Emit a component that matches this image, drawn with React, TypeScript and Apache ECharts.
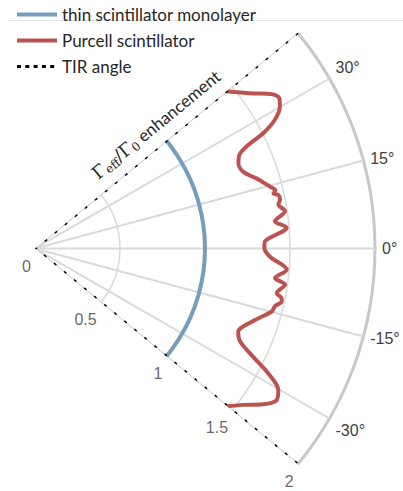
import React, { useEffect, useRef } from 'react';
import * as echarts from 'echarts';

// TIR half-angle (degrees)
const TIR = 39.4;

const seriesNames = ['thin scintillator monolayer', 'Purcell scintillator', 'TIR angle'];
const angleTicks = [-30, -15, 0, 15, 30];
const radiusTicks = [0, 0.5, 1, 1.5, 2];

// thin scintillator monolayer: enhancement read at sampled angles
const monoAngles = [-39.4, -36, -32, -28, -24, -20, -16, -12, -8, -4, 0, 4, 8, 12, 16, 20, 24, 28, 32, 36, 39.4];
const monoValues = [1, 1, 1, 1, 1, 1, 1, 1, 1, 1, 1, 1, 1, 1, 1, 1, 1, 1, 1, 1, 1];

// Purcell scintillator
const purcellAngles = [
  39.4, 35.8, 33.1, 31.6, 30.1, 28.2, 26.8, 25.9, 24.6, 22.7, 20.2, 17.0, 14.7, 13.6, 13.0, 12.4, 11.3,
  10.25, 8.5, 6.5, 4.7, 1.8, 0.2, -2, -4.8, -7, -8.2, -10.5, -11.4, -12.1, -13.5, -14.9, -18, -22.3,
  -24.4, -26.4, -28.15, -30.2, -32.1, -34.3, -36.9, -39.4,
];
const purcellValues = [
  1.457, 1.56, 1.663, 1.687, 1.665, 1.6, 1.504, 1.395, 1.322, 1.297, 1.306, 1.38, 1.43, 1.455, 1.44, 1.466, 1.47,
  1.455, 1.487, 1.42, 1.485, 1.354, 1.349, 1.383, 1.486, 1.422, 1.486, 1.446, 1.48, 1.484, 1.452, 1.441, 1.361, 1.292,
  1.325, 1.433, 1.556, 1.656, 1.678, 1.626, 1.532, 1.462,
];

export default function App() {
  const ref = useRef<HTMLDivElement>(null);
  useEffect(() => {
    const chart = echarts.init(ref.current!, null, { renderer: 'svg' });
    const gridColor = '#d9d9d9';
    const labelColor = '#404040';
    const radialSeries = angleTicks.map((a) => ({
      type: 'line',
      coordinateSystem: 'polar',
      data: [[0, a], [2, a]],
      symbol: 'none',
      silent: true,
      lineStyle: { color: gridColor, width: 2 },
      z: 1,
    }));
    chart.setOption({
      animation: false,
      legend: {
        orient: 'vertical',
        left: 15,
        top: 6,
        itemWidth: 40,
        itemHeight: 18,
        itemGap: 9,
        padding: 0,
        itemStyle: { opacity: 0 },
        lineStyle: { width: 4 },
        textStyle: { fontFamily: 'Lato', fontSize: 17, color: '#262626' },
        data: [
          { name: seriesNames[0] },
          { name: seriesNames[1] },
          { name: seriesNames[2], lineStyle: { type: [4, 4.3], width: 3, color: '#000' } },
        ],
      },
      polar: { center: [35, 248.5], radius: 340 },
      angleAxis: {
        type: 'value',
        min: -TIR,
        max: TIR,
        startAngle: -TIR,
        endAngle: TIR,
        clockwise: false,
        axisLine: { show: true, lineStyle: { color: '#c8c8c8', width: 3 } },
        axisTick: { show: false },
        splitLine: { show: false },
        axisLabel: {
          customValues: angleTicks,
          formatter: '{value}°',
          margin: 7,
          fontFamily: 'Liberation Sans',
          fontSize: 16,
          color: labelColor,
        },
      },
      radiusAxis: {
        type: 'value',
        min: 0,
        max: 2,
        interval: 0.5,
        axisLine: { show: false },
        axisTick: { show: false },
        axisLabel: { show: false },
        splitLine: { show: true, lineStyle: { color: gridColor, width: 1.5 } },
      },
      graphic: [
        {
          type: 'line',
          shape: { x1: 8, y1: 20.5, x2: 403, y2: 20.5 },
          style: { stroke: '#e6e6e6', lineWidth: 1 },
          z: -1,
        },
        {
          type: 'text',
          x: 156,
          y: 124.5,
          rotation: (TIR * Math.PI) / 180,
          style: {
            text: '{g|Γ}{s|eff}{g|/Γ}{s|0}{t| enhancement}',
            align: 'center',
            verticalAlign: 'middle',
            rich: {
              g: { fontFamily: 'DejaVu Serif', fontSize: 18, fill: '#262626' },
              s: { fontFamily: 'DejaVu Serif', fontSize: 12, fill: '#262626', padding: [9, 0, 0, 0] },
              t: { fontFamily: 'Lato', fontSize: 17, fill: '#262626' },
            },
          },
        },
      ],
      series: [
        ...radialSeries,
        {
          type: 'line',
          coordinateSystem: 'polar',
          data: [[2, TIR], [0, TIR], [2, -TIR]],
          symbol: 'none',
          silent: true,
          lineStyle: { color: '#d0d0d0', width: 2 },
          z: 2,
        },
        {
          type: 'scatter',
          coordinateSystem: 'polar',
          data: radiusTicks.map((r) => [r, -TIR]),
          symbolSize: 1,
          itemStyle: { color: 'rgba(0,0,0,0)' },
          silent: true,
          label: {
            show: true,
            position: 'inside',
            align: 'right',
            verticalAlign: 'middle',
            offset: [-4, 17.5],
            formatter: (p: any) => String(p.value[0]),
            fontFamily: 'Liberation Sans',
            fontSize: 16,
            color: labelColor,
          },
        },
        {
          name: seriesNames[0],
          type: 'line',
          coordinateSystem: 'polar',
          data: monoAngles.map((a, i) => [monoValues[i], a]),
          symbol: 'none',
          lineStyle: { color: '#769cbe', width: 4 },
          itemStyle: { color: '#769cbe' },
          z: 3,
        },
        {
          name: seriesNames[1],
          type: 'line',
          coordinateSystem: 'polar',
          data: purcellAngles.map((a, i) => [purcellValues[i], a]),
          symbol: 'none',
          smooth: 0.3,
          lineStyle: { color: '#bb5450', width: 4 },
          itemStyle: { color: '#bb5450' },
          z: 3,
        },
        {
          name: seriesNames[2],
          type: 'line',
          coordinateSystem: 'polar',
          data: [[2, TIR], [0, TIR], [2, -TIR]],
          symbol: 'none',
          lineStyle: { color: '#000', width: 3, type: [3, 10] },
          itemStyle: { color: '#000' },
          z: 4,
        },
      ],
    });
    return () => chart.dispose();
  }, []);
  return <div ref={ref} style={{ position: 'absolute', left: 0, top: 0, width: 403, height: 491 }} />;
}
